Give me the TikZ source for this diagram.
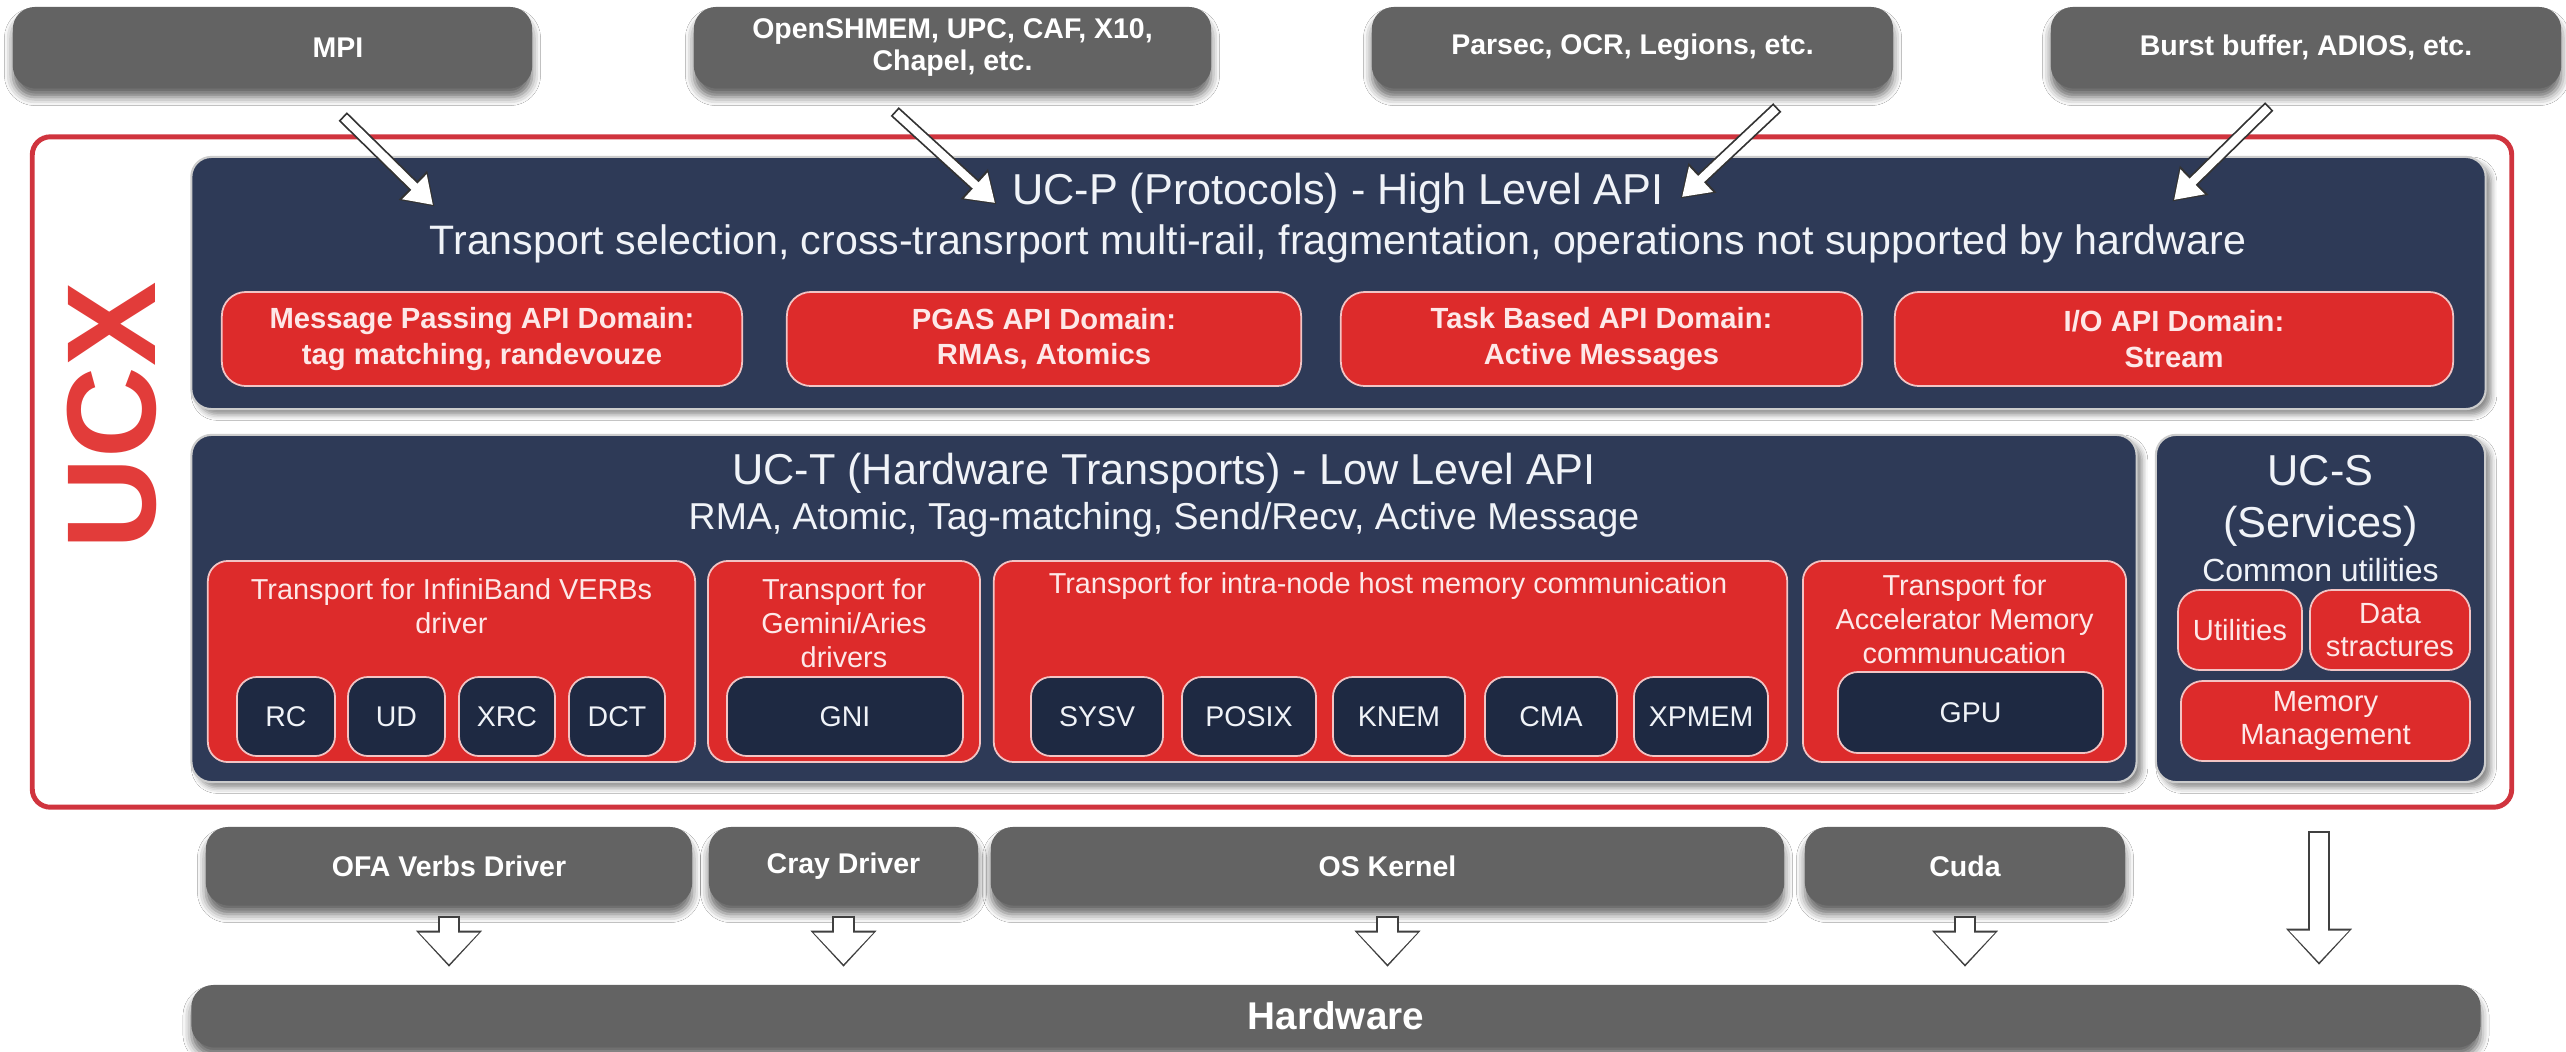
\documentclass[tikz,border=0pt]{standalone}
\usepackage{fontspec}
\setmainfont{Liberation Sans}
\usetikzlibrary{arrows.meta,calc,shadows.blur}

\definecolor{slate}{RGB}{99,99,99}
\definecolor{ucnavy}{RGB}{46,58,87}
\definecolor{subnavy}{RGB}{30,41,66}
\definecolor{ucred}{RGB}{221,43,43}
\definecolor{framered}{RGB}{208,52,62}
\definecolor{ucxred}{RGB}{226,60,58}
\definecolor{pinkedge}{RGB}{242,196,196}
\definecolor{paletext}{RGB}{240,243,248}
\definecolor{pinktext}{RGB}{253,232,232}

\begin{document}
\begin{tikzpicture}
[x=0.01cm, y=-0.01cm,
  graytext/.style={text=white, font=\bfseries\fontsize{8.1}{9}\selectfont, align=center},
  graybox/.style={shape=rectangle, rounded corners=0.22cm, fill=slate, graytext,
    minimum height=0.81cm, inner sep=1pt,
    blur shadow={shadow xshift=0pt, shadow yshift=-2.6pt, shadow blur radius=2.4pt, shadow opacity=60}},
  ucxframe/.style={shape=rectangle, rounded corners=0.18cm, draw=framered, line width=1.4pt},
  ucxletters/.style={text=ucxred, font=\bfseries\fontsize{36}{40}\selectfont, inner sep=0pt},
  layerbox/.style={shape=rectangle, rounded corners=0.2cm, fill=ucnavy, draw=black!20, line width=0.6pt,
    blur shadow={shadow xshift=1.6pt, shadow yshift=-1.6pt, shadow blur radius=1.6pt, shadow opacity=45}},
  headtext/.style={text=paletext, font=\fontsize{12.3}{14.8}\selectfont, align=center, inner sep=0pt},
  subtext/.style={text=paletext, font=\fontsize{11.7}{14}\selectfont, inner sep=0pt},
  apibox/.style={shape=rectangle, rounded corners=0.24cm, fill=ucred, draw=pinkedge, line width=0.5pt,
    text=pinktext, align=center, font=\bfseries\fontsize{8.3}{10}\selectfont, minimum height=0.94cm, inner sep=1pt},
  trbox/.style={shape=rectangle, rounded corners=0.2cm, fill=ucred, draw=pinkedge, line width=0.5pt,
    minimum height=2.01cm},
  trtext/.style={text=pinktext, font=\fontsize{8.2}{9.7}\selectfont, align=center, inner sep=0pt},
  subbox/.style={shape=rectangle, rounded corners=0.2cm, fill=subnavy, draw=pinkedge, line width=0.5pt,
    text=paletext, font=\fontsize{8.1}{9.7}\selectfont, minimum height=0.79cm, inner sep=1pt},
  svcbox/.style={shape=rectangle, rounded corners=0.22cm, fill=ucred, draw=pinkedge, line width=0.5pt,
    text=pinktext, align=center, font=\fontsize{8.3}{9.6}\selectfont, minimum height=0.8cm, inner sep=1pt},
  topflow/.style={draw=white, line width=2.4pt, -{Triangle[length=7.4pt,width=9.4pt]},
    preaction={draw=black!80, line width=3.4pt, -{Triangle[length=8.6pt,width=11pt]},
      shorten >=-0.6pt, shorten <=-0.5pt}},
  downflow/.style={draw=white, line width=5.2pt, -{Triangle[length=9pt,width=16.4pt]},
    preaction={draw=black!75, line width=6.4pt, -{Triangle[length=10.3pt,width=18.2pt]},
      shorten >=-0.7pt, shorten <=-0.6pt}}]
\fill[white] (0,0) rectangle (2566,1051);
\useasboundingbox (0,0) rectangle (2566,1051);

%% software on top
\node[graybox, minimum width=5.19cm, label={[graytext, xshift=0.655cm]center:MPI}] (mpi) at (272.5,47.5) {};
\foreach \name/\cx/\w/\txt in {pgas/952.5/5.17/{OpenSHMEM, UPC, CAF, X10,\\Chapel, etc.},
  task/1632.5/5.21/{Parsec, OCR, Legions, etc.}, io/2306/5.10/{Burst buffer, ADIOS, etc.}}
{
  \node[graybox, minimum width=\w cm] (\name) at (\cx,47.5) {\txt};
}

%% UCX frame
\node[ucxframe, minimum width=24.78cm, minimum height=6.70cm] (ucx) at (1272,472) {};
\node[ucxletters, rotate=90] (ucxname) at (112,416) {UCX};

%% UC-P
\node[layerbox, minimum width=22.93cm, minimum height=2.52cm] (ucp) at (1338.5,283) {};
\node[headtext] (ucptitle) at (1338,193) {UC-P (Protocols) - High Level API};
\node[subtext] (ucpsub) at (1338,244)
  {Transport selection, cross-transrport multi-rail, fragmentation, operations not supported by hardware};
\foreach \name/\cx/\w/\txt in {msgapi/482/5.20/{Message Passing API Domain:\\tag matching, randevouze},
  pgasapi/1044/5.14/{PGAS API Domain:\\RMAs, Atomics},
  taskapi/1601.5/5.21/{Task Based API Domain:\\Active Messages},
  ioapi/2174/5.58/{I/O API Domain:\\Stream}}
{
  \node[apibox, minimum width=\w cm] (\name) at (\cx,339) {\txt};
}

%% UC-T
\node[layerbox, minimum width=19.44cm, minimum height=3.47cm] (uct) at (1164,608.5) {};
\node[headtext] (ucttitle) at (1164,473) {UC-T (Hardware Transports) - Low Level API};
\node[subtext, font=\fontsize{10.65}{12}\selectfont] (uctsub) at (1164,520)
  {RMA, Atomic, Tag-matching, Send/Recv, Active Message};
\foreach \name/\cx/\w in {ib/451.5/4.87, gemini/844/2.72, intra/1390.5/7.93, accel/1964.5/3.23}
{
  \node[trbox, minimum width=\w cm] (\name) at (\cx,661.5) {};
}
\node[trtext] (ibtext) at (451.5,606) {Transport for InfiniBand VERBs\\driver};
\node[trtext] (geminitext) at (844,623) {Transport for\\Gemini/Aries\\drivers};
\node[trtext] (intratext) at (1388,586) {Transport for intra-node host memory communication};
\node[trtext] (acceltext) at (1964.5,619) {Transport for\\Accelerator Memory\\communucation};
\foreach \name/\cx/\w in {RC/286/0.98, UD/396.5/0.97, XRC/507/0.96, DCT/617/0.96, GNI/845/2.36,
  SYSV/1097/1.32, POSIX/1249/1.34, KNEM/1399/1.32, CMA/1551/1.32, XPMEM/1701/1.34}
{
  \node[subbox, minimum width=\w cm] (\name) at (\cx,716.5) {\name};
}
\node[subbox, minimum width=2.65cm, minimum height=0.81cm] (GPU) at (1970.5,712.5) {GPU};

%% UC-S
\node[layerbox, minimum width=3.29cm, minimum height=3.47cm] (ucs) at (2320.5,608.5) {};
\node[headtext] (ucstitle) at (2320.5,501) {UC-S\\(Services)};
\node[subtext, font=\fontsize{9.1}{11}\selectfont] (ucscommon) at (2320.5,570) {Common utilities};
\node[svcbox, minimum width=1.24cm] (utilities) at (2240,630) {Utilities};
\node[svcbox, minimum width=1.60cm] (datastruct) at (2390,630) {Data\\stractures};
\node[svcbox, minimum width=2.89cm] (memmgmt) at (2325.5,721) {Memory\\Management};

%% drivers and hardware
\foreach \name/\cx/\w/\txt in {ofa/449/4.86/OFA Verbs Driver, cray/843.5/2.69/Cray Driver,
  kernel/1387.5/7.93/OS Kernel, cuda/1965/3.20/Cuda}
{
  \node[graybox, minimum width=\w cm, minimum height=0.78cm] (\name) at (\cx,866) {\txt};
}
\node[graybox, minimum width=22.88cm, minimum height=0.62cm, font=\bfseries\fontsize{11}{13}\selectfont]
  (hw) at (1336,1016) {Hardware};

%% arrows
\coordinate (mpi-in) at (433,205);
\coordinate (pgas-in) at (995,203);
\coordinate (task-in) at (1682,197);
\coordinate (io-in) at (2174,200);
\foreach \src/\dx/\dy in {mpi/71.5/29, pgas/-56.5/24, task/143.5/20, io/-38/19}
{
  \draw[topflow] ($(\src.south)+(\dx,\dy)$) -- (\src-in);
}
\foreach \src in {ofa, cray, kernel, cuda}
{
  \draw[downflow] ($(\src.south)+(0,12)$) -- ($(\src.south |- hw.north)+(0,-20)$);
}
\draw[downflow] ($(ucs.south)+(-1.5,50)$) -- ($(ucs.south |- hw.north)+(-1.5,-22)$);
\end{tikzpicture}
\end{document}
